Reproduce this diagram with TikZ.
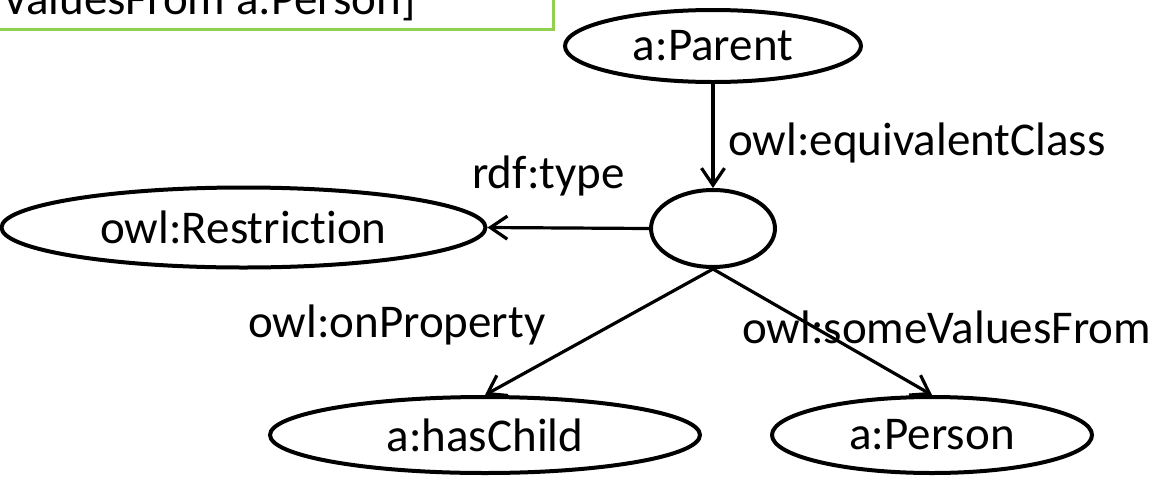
\documentclass[tikz,border=0pt]{standalone}
\usepackage{fontspec}
\setmainfont{Carlito}[Ligatures=NoCommon]
\usetikzlibrary{shapes.geometric,arrows.meta}
\tikzset{
  cls/.style={ellipse, draw=black, line width=4pt, fill=white, inner sep=0pt,
    font=\fontsize{47}{56}\selectfont},
  lbl/.style={inner sep=0pt, font=\fontsize{47}{56}\selectfont},
  link/.style={line width=3.2pt, -{Straight Barb[length=17pt,width=23pt]}},
  note/.style={draw={rgb,255:red,146;green,208;blue,80}, line width=3pt, fill=white}
}
\begin{document}
\begin{tikzpicture}[x=1pt,y=-1pt]
\useasboundingbox (0,0) rectangle (1163,483);
\clip (0,0) rectangle (1163,483);
\fill[white] (0,0) rectangle (1163,483);

% Turtle snippet box, running off the top of the frame
\draw[note] (-20,-80) rectangle (553,29);
\node[lbl, anchor=base east] (snippet) at (416,14) {owl:someValuesFrom a:Person]};

% classes
\node[cls, minimum width=296pt, minimum height=72pt] (parent) at (713,46) {a:Parent};
\node[cls, minimum width=124pt, minimum height=77pt] (restr) at (713,228.5) {};
\node[cls, minimum width=484pt, minimum height=80pt] (owlr) at (243.5,227.5) {owl:Restriction};
\node[cls, minimum width=430pt, minimum height=76pt] (child) at (485,435) {a:hasChild};
\node[cls, minimum width=320pt, minimum height=76pt] (person) at (932,435) {a:Person};

% properties
\draw[link] (parent.south) -- (restr.north);
\draw[link] (restr.west) -- (owlr.east);
\draw[link] (restr.south) -- (child.north);
\draw[link] (restr.south) -- (person.north);

\node[lbl, anchor=base west] (eqc) at (728,155) {owl:equivalentClass};
\node[lbl, anchor=base west] (rtype) at (472,188) {rdf:type};
\node[lbl, anchor=base west] (onp) at (248,337) {owl:onProperty};
\node[lbl, anchor=base west] (svf) at (742,343) {owl:someValuesFrom};
\end{tikzpicture}
\end{document}
